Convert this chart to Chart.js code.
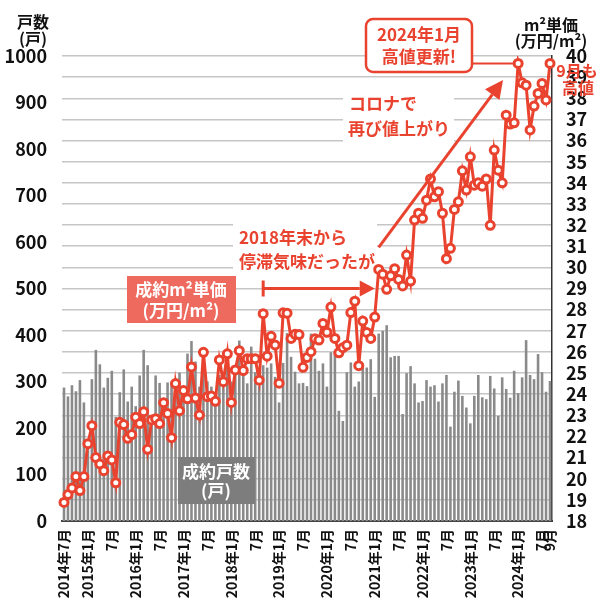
<!DOCTYPE html>
<html lang="ja">
<head>
<meta charset="utf-8">
<script src="https://cdn.jsdelivr.net/npm/chart.js@4.4.1/dist/chart.umd.min.js"></script>
<style>
html, body { margin: 0; padding: 0; background: #fff; }
</style>
</head>
<body>
<canvas id="chart" width="600" height="611"></canvas>
<script>
// 月 (2014年7月〜2024年9月)
const months = [];
for (let y = 2014, m = 7; y < 2024 || (y === 2024 && m <= 9); m++) {
    if (m > 12) { m = 1; y++; }
    months.push(y + '-' + String(m).padStart(2, '0'));
}

// 成約戸数 (戸)
const units = [
    287, 268, 292, 279, 303, 255, 170, 305, 368, 337,
    287, 308, 323, 224, 277, 326, 257, 289, 247, 313,
    368, 335, 220, 313, 297, 257, 298, 300, 300, 319,
    270, 360, 387, 343, 289, 321, 300, 289, 275, 314,
    318, 332, 300, 330, 388, 332, 296, 375, 320, 290,
    335, 330, 339, 310, 255, 340, 404, 353, 321, 296,
    297, 290, 403, 349, 323, 339, 289, 363, 363, 237,
    215, 320, 341, 289, 300, 330, 330, 348, 267, 403,
    409, 421, 352, 355, 355, 230, 318, 333, 296, 255,
    258, 303, 289, 292, 257, 296, 314, 203, 278, 302,
    269, 244, 210, 269, 314, 266, 262, 312, 285, 226,
    309, 284, 265, 323, 275, 309, 389, 314, 305, 359,
    320, 278, 301
];

// 成約m²単価 (万円/m²)
const price = [
    18.88, 19.25, 19.56, 20.10, 19.44, 20.10, 21.66, 22.51, 21.00, 20.70,
    20.38, 21.08, 20.89, 19.81, 22.67, 22.56, 21.91, 22.09, 22.91, 22.61,
    23.17, 21.39, 22.78, 22.84, 22.61, 23.60, 23.09, 21.94, 24.50, 23.22,
    24.18, 23.78, 25.29, 23.82, 23.01, 25.98, 23.88, 23.91, 23.66, 25.62,
    24.59, 25.91, 23.61, 25.15, 26.06, 25.12, 25.68, 25.68, 25.68, 24.66,
    27.81, 25.80, 26.74, 26.33, 24.52, 27.85, 27.83, 26.64, 26.83, 26.82,
    25.27, 25.74, 26.01, 26.62, 26.56, 27.35, 26.93, 28.12, 26.64, 25.96,
    26.20, 26.32, 27.86, 28.40, 25.35, 27.46, 26.92, 26.64, 27.65, 29.90,
    29.68, 28.96, 29.60, 29.94, 29.43, 29.12, 30.58, 29.35, 32.24, 32.56,
    32.32, 33.18, 34.18, 33.34, 33.58, 32.56, 30.41, 30.90, 32.74, 33.10,
    34.57, 33.66, 35.23, 33.89, 34.00, 33.84, 34.18, 31.99, 35.55, 34.60,
    34.00, 37.20, 36.78, 36.84, 39.65, 38.73, 38.62, 36.50, 37.63, 38.23,
    38.70, 37.92, 39.65
];

// 横軸の目盛ラベル
const tickLabels = [
    ['2014-07', '2014年7月'], ['2015-01', '2015年1月'], ['2015-07', '7月'],
    ['2016-01', '2016年1月'], ['2016-07', '7月'], ['2017-01', '2017年1月'],
    ['2017-07', '7月'], ['2018-01', '2018年1月'], ['2018-07', '7月'],
    ['2019-01', '2019年1月'], ['2019-07', '7月'], ['2020-01', '2020年1月'],
    ['2020-07', '7月'], ['2021-01', '2021年1月'], ['2021-07', '7月'],
    ['2022-01', '2022年1月'], ['2022-07', '7月'], ['2023-01', '2023年1月'],
    ['2023-07', '7月'], ['2024-01', '2024年1月'], ['2024-07', '7月'],
    ['2024-09', '9月']
];
const tickMap = Object.fromEntries(tickLabels);

const RED = '#e9432f';
const FONT = "'Noto Sans CJK JP', sans-serif";
Chart.defaults.font.family = FONT;

function txt(c, s, x, y, size, color, align) {
    c.font = 'bold ' + size + 'px ' + FONT;
    c.fillStyle = color;
    c.textAlign = align || 'center';
    c.textBaseline = 'middle';
    c.fillText(s, x, y);
}

function arrow(c, x1, y1, x2, y2, head, half) {
    const a = Math.atan2(y2 - y1, x2 - x1);
    const bx = x2 - head * Math.cos(a), by = y2 - head * Math.sin(a);
    c.beginPath(); c.moveTo(x1, y1); c.lineTo(bx, by); c.stroke();
    c.beginPath(); c.moveTo(x2, y2);
    c.lineTo(bx + half * Math.sin(a), by - half * Math.cos(a));
    c.lineTo(bx - half * Math.sin(a), by + half * Math.cos(a));
    c.closePath(); c.fill();
}

// 注記
const notes = {
    id: 'notes',
    beforeDatasetsDraw(chart) {
        const c = chart.ctx;
        c.save();
        c.fillStyle = '#fff';
        c.fillRect(343, 91, 111, 51);
        c.fillRect(233, 216, 144, 62);
        c.restore();
    },
    afterDatasetsDraw(chart) {
        const c = chart.ctx;
        const xs = chart.scales.x, yl = chart.scales.y, yr = chart.scales.y2;
        c.save();

        // 軸タイトル
        txt(c, '戸数', 33, 22, 16, '#111');
        txt(c, '(戸)', 33, 39, 16, '#111');
        txt(c, 'm²単価', 551, 25, 16, '#111');
        txt(c, '(万円/m²)', 551, 41, 16, '#111');

        // 凡例ボックス
        c.fillStyle = '#ee6a5f';
        c.fillRect(127, 276, 109, 47);
        txt(c, '成約m²単価', 181, 290, 17, '#fff');
        txt(c, '(万円/m²)', 181, 311, 17, '#fff');
        c.fillStyle = '#7d7d7d';
        c.fillRect(178, 457, 77, 47);
        txt(c, '成約戸数', 216, 472, 17, '#fff');
        txt(c, '(戸)', 216, 491, 17, '#fff');

        c.strokeStyle = RED;
        c.fillStyle = RED;
        c.lineWidth = 3;

        // 2018年末から停滞
        const hy = yl.getPixelForValue(500);
        const hx1 = xs.getPixelForValue(50), hx2 = xs.getPixelForValue(78);
        c.beginPath(); c.moveTo(hx1, hy - 8); c.lineTo(hx1, hy + 8); c.stroke();
        arrow(c, hx1, hy, hx2, hy, 15, 8);
        txt(c, '2018年末から', 239, 238, 17, RED, 'left');
        txt(c, '停滞気味だったが', 239, 262, 17, RED, 'left');

        // コロナで再び値上がり
        arrow(c, xs.getPixelForValue(79), yr.getPixelForValue(30.95),
              xs.getPixelForValue(110.2), yr.getPixelForValue(38.86), 18, 9);
        txt(c, 'コロナで', 349, 104, 17, RED, 'left');
        txt(c, '再び値上がり', 348, 129, 17, RED, 'left');

        // 2024年1月 高値更新
        const px = xs.getPixelForValue(114), py = yr.getPixelForValue(price[114]);
        c.lineWidth = 2;
        c.beginPath(); c.moveTo(472, py); c.lineTo(px - 5, py); c.stroke();
        c.lineWidth = 2.5;
        c.fillStyle = '#fff';
        c.beginPath(); c.roundRect(366, 19, 106, 53, 7); c.fill(); c.stroke();
        txt(c, '2024年1月', 419, 35, 17, RED);
        txt(c, '高値更新!', 419, 57, 17, RED);

        // 9月も高値
        txt(c, '9月も', 577, 71, 16, RED);
        txt(c, '高値', 578, 88, 16, RED);
        c.restore();
    }
};

new Chart(document.getElementById('chart'), {
    type: 'bar',
    data: {
        labels: months,
        datasets: [{
            type: 'line',
            label: '成約m²単価',
            data: price,
            yAxisID: 'y2',
            borderColor: RED,
            borderWidth: 3,
            pointRadius: 4,
            pointBorderWidth: 3,
            pointBorderColor: RED,
            pointBackgroundColor: '#fff',
            tension: 0,
            order: 0
        }, {
            label: '成約戸数',
            data: units,
            yAxisID: 'y',
            backgroundColor: '#8a8a8a',
            barPercentage: 0.65,
            categoryPercentage: 1.0,
            order: 1
        }]
    },
    options: {
        responsive: false,
        animation: false,
        layout: { padding: { top: 56, left: 0, right: 0, bottom: 0 } },
        plugins: {
            legend: { display: false },
            tooltip: { enabled: false }
        },
        scales: {
            x: {
                grid: { display: false, drawTicks: false },
                border: { display: true, color: '#444', width: 2 },
                ticks: {
                    autoSkip: false,
                    minRotation: 90,
                    maxRotation: 90,
                    padding: 8,
                    color: '#111',
                    font: { size: 14, weight: 'bold' },
                    callback: function(value, index) {
                        return tickMap[months[index]] || '';
                    }
                },
                afterFit: function(scale) { scale.height = 90; }
            },
            y: {
                position: 'left',
                min: 0,
                max: 1000,
                grid: { display: false, drawTicks: false },
                border: { display: false },
                ticks: {
                    stepSize: 100,
                    autoSkip: false,
                    padding: 15,
                    color: '#111',
                    font: { size: 18, weight: 'bold' },
                    callback: function(value) { return String(value); }
                },
                afterFit: function(scale) { scale.width = 62; }
            },
            y2: {
                position: 'right',
                min: 18,
                max: 40,
                grid: { color: '#c6c6c6', lineWidth: 1.5, drawTicks: false },
                border: { display: true, color: '#333', width: 1.5 },
                ticks: {
                    stepSize: 1,
                    autoSkip: false,
                    padding: 14,
                    color: '#111',
                    font: { size: 18, weight: 'bold' },
                    callback: function(value) { return String(value); }
                },
                afterFit: function(scale) { scale.width = 48; }
            }
        }
    },
    plugins: [notes]
});
</script>
</body>
</html>
